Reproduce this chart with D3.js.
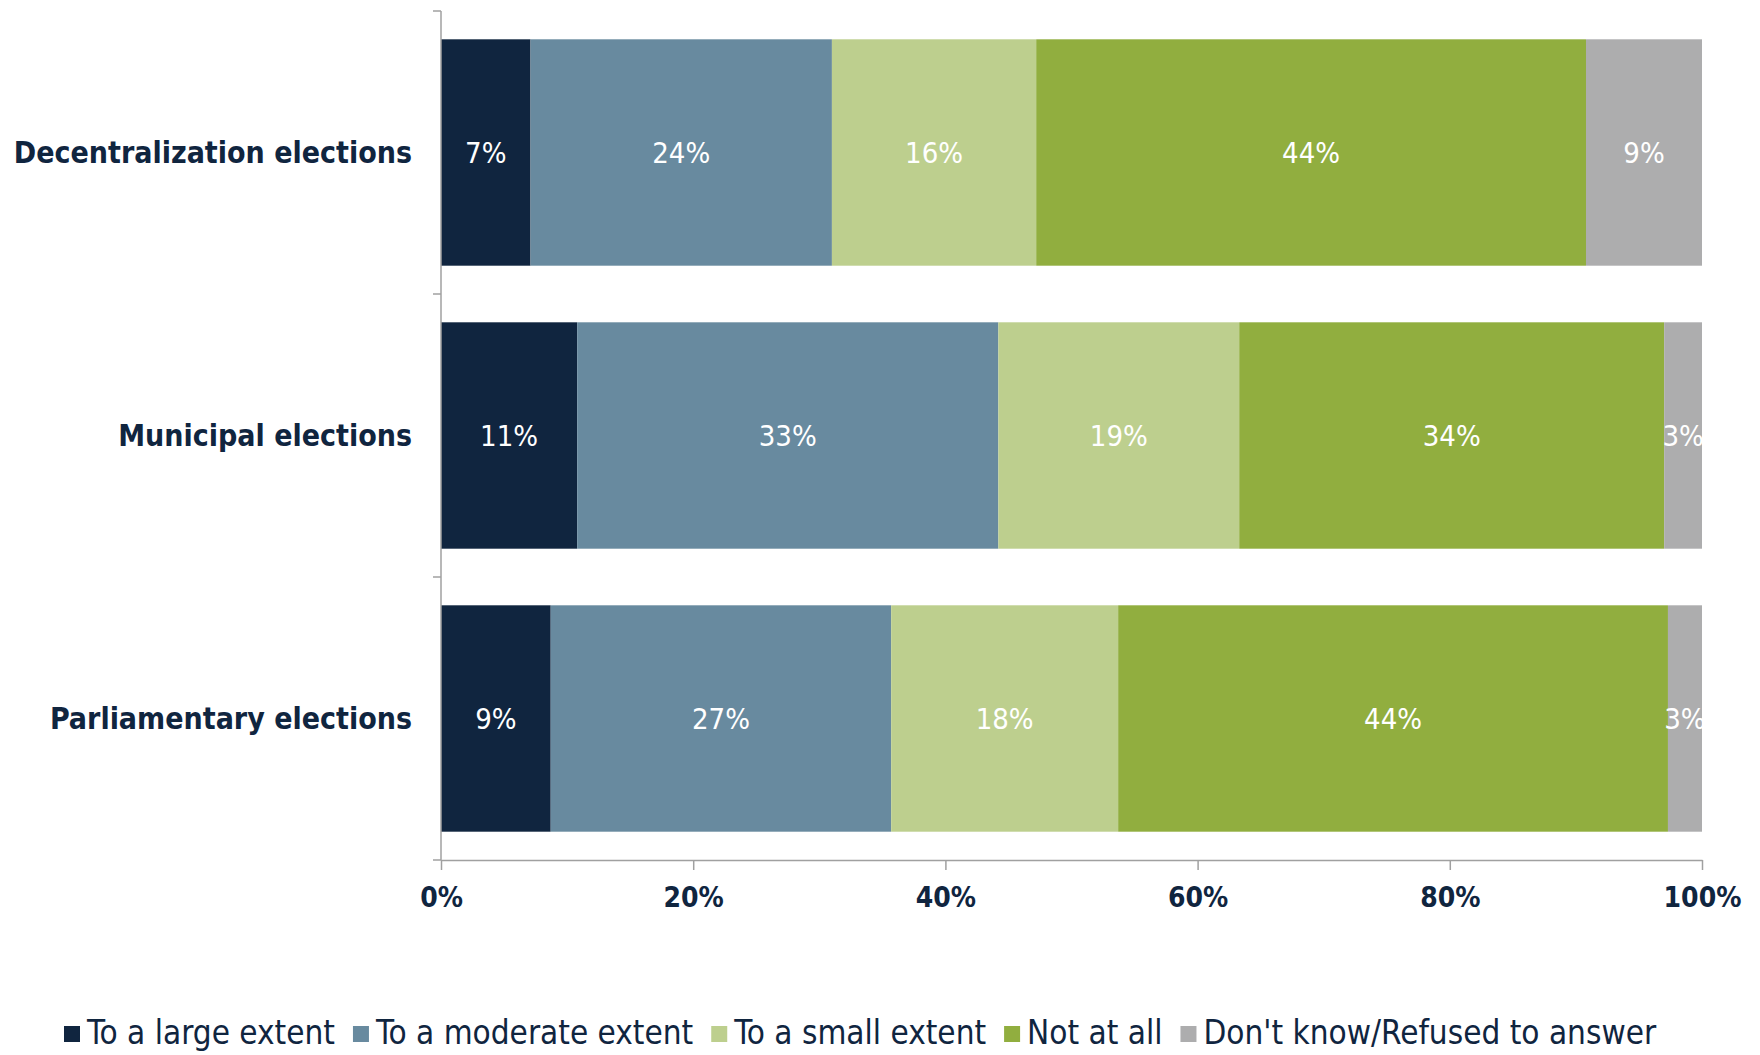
<!DOCTYPE html>
<html>
<head>
<meta charset="utf-8">
<script src="https://cdn.jsdelivr.net/npm/d3@7"></script>
<style>
  body { margin: 0; background: #fff; }
  svg { display: block; }
</style>
</head>
<body>
<div id="chart"></div>
<script>
const categories = ['Decentralization elections', 'Municipal elections', 'Parliamentary elections'];
const seriesNames = ['To a large extent', 'To a moderate extent', 'To a small extent', 'Not at all', "Don't know/Refused to answer"];
const seriesColors = ['#10253f', '#688a9f', '#bdcf8e', '#91ae3f', '#adadae'];
// one array per answer, in the order of categories
const largeExtent = [7.1, 10.8, 8.7];
const moderateExtent = [23.9, 33.4, 27.0];
const smallExtent = [16.2, 19.1, 18.0];
const notAtAll = [43.6, 33.7, 43.6];
const dontKnow = [9.2, 3.0, 2.7];
const xTicks = [0, 20, 40, 60, 80, 100];

const series = [largeExtent, moderateExtent, smallExtent, notAtAll, dontKnow];
const font = '"DejaVu Sans Condensed", "DejaVu Sans", sans-serif';
const navy = '#10253f';

const width = 1760, height = 1055;
const plotLeft = 441, plotRight = 1702, plotTop = 11, plotBottom = 860;

const svg = d3.select('#chart')
  .append('svg')
  .attr('width', width)
  .attr('height', height)
  .style('font-family', font);

const x = d3.scaleLinear().domain([0, 100]).range([plotLeft, plotRight]);
const y = d3.scaleBand().domain(categories).range([plotTop, plotBottom])
  .paddingInner(0.2).paddingOuter(0.1);

svg.append('clipPath').attr('id', 'plot-clip')
  .append('rect')
  .attr('x', plotLeft).attr('y', plotTop)
  .attr('width', plotRight - plotLeft).attr('height', plotBottom - plotTop);

// stack the segments
const rows = categories.map((c, i) => {
  let acc = 0;
  return series.map((s, k) => {
    const seg = { cat: c, k: k, v: s[i], x0: acc, x1: acc + s[i] };
    acc += s[i];
    return seg;
  });
});

const bars = svg.append('g');
rows.forEach(row => {
  bars.selectAll(null)
    .data(row)
    .enter()
    .append('rect')
    .attr('x', d => x(d.x0))
    .attr('y', d => y(d.cat))
    .attr('width', d => x(d.x1) - x(d.x0))
    .attr('height', y.bandwidth())
    .style('fill', d => seriesColors[d.k]);
});

const labels = svg.append('g').attr('clip-path', 'url(#plot-clip)');
rows.forEach(row => {
  labels.selectAll(null)
    .data(row)
    .enter()
    .append('text')
    .attr('x', d => (x(d.x0) + x(d.x1)) / 2)
    .attr('y', d => y(d.cat) + y.bandwidth() / 2)
    .attr('dy', '0.36em')
    .attr('text-anchor', 'middle')
    .attr('font-size', '29px')
    .style('fill', '#fff')
    .text(d => Math.round(d.v) + '%');
});

// x axis
const xAxis = svg.append('g')
  .attr('transform', `translate(0, ${plotBottom})`)
  .call(d3.axisBottom(x).tickValues(xTicks).tickSize(10).tickSizeOuter(0).tickFormat(d => d + '%'));
xAxis.select('.domain').attr('stroke', '#a0a0a0').attr('stroke-width', 1.5);
xAxis.selectAll('.tick line').attr('stroke', '#a0a0a0').attr('stroke-width', 1.5);
xAxis.selectAll('.tick text')
  .attr('y', 27)
  .attr('font-size', '28px')
  .attr('font-weight', 'bold')
  .attr('font-family', font)
  .style('fill', navy);

// y axis: line plus ticks on the band edges
const yAxis = svg.append('g').attr('transform', `translate(${plotLeft}, 0)`);
yAxis.append('line')
  .attr('y1', plotTop).attr('y2', plotBottom)
  .attr('stroke', '#a0a0a0').attr('stroke-width', 1.5);
const edges = categories.map(c => y(c) - y.step() * y.paddingInner() / 2)
  .concat([plotBottom]);
yAxis.selectAll('.edge')
  .data(edges)
  .enter()
  .append('line')
  .attr('x1', -8).attr('x2', 0)
  .attr('y1', d => d).attr('y2', d => d)
  .attr('stroke', '#a0a0a0').attr('stroke-width', 1.5);
yAxis.selectAll('.cat')
  .data(categories)
  .enter()
  .append('text')
  .attr('x', -29)
  .attr('y', d => y(d) + y.bandwidth() / 2)
  .attr('dy', '0.34em')
  .attr('text-anchor', 'end')
  .attr('font-size', '30px')
  .attr('font-weight', 'bold')
  .style('fill', navy)
  .text(d => d);

// legend
const legend = svg.append('g').attr('transform', 'translate(64, 1032)');
let lx = 0;
seriesNames.forEach((name, k) => {
  const item = legend.append('g').attr('transform', `translate(${lx}, 0)`);
  item.append('rect')
    .attr('y', -6)
    .attr('width', 16)
    .attr('height', 16)
    .style('fill', seriesColors[k]);
  const t = item.append('text')
    .attr('x', 23)
    .attr('dy', '0.36em')
    .attr('font-size', '33px')
    .style('fill', navy)
    .text(name);
  lx += 23 + t.node().getComputedTextLength() + 18;
});
</script>
</body>
</html>
